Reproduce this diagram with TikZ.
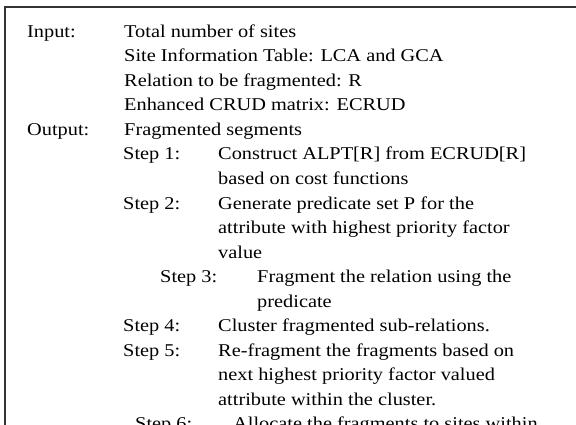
\documentclass[tikz,border=0pt]{standalone}
\usepackage{fontspec}
\setmainfont{Liberation Serif}[FakeStretch=1.13]
\begin{document}
\begin{tikzpicture}[x=1pt,y=-1pt,
  txt/.style={anchor=base west, inner sep=0pt, font=\fontsize{18}{22}\selectfont},
  frame/.style={line width=2pt, draw=black!80}]
\useasboundingbox (0,0) rectangle (576,425);
\clip (0,0) rectangle (576,425);
\draw[frame] (5,7.5) rectangle (620,470);
\node[txt] (inl) at (27,37.5) {Input:};
\node[txt] (in1) at (124,37.5) {Total number of sites};
\node[txt] (in2) at (124,62) {Site Information Table: LCA and GCA};
\node[txt] (in3) at (124,86.5) {Relation to be fragmented: R};
\node[txt] (in4) at (124,111) {Enhanced CRUD matrix: ECRUD};
\node[txt] (outl) at (27,135.5) {Output:};
\node[txt] (out1) at (124,135.5) {Fragmented segments};
\node[txt] (s1) at (123,160) {Step 1:};
\node[txt] (s1a) at (218,160) {Construct ALPT[R] from ECRUD[R]};
\node[txt] (s1b) at (218,184.5) {based on cost functions};
\node[txt] (s2) at (123,209) {Step 2:};
\node[txt] (s2a) at (218,209) {Generate predicate set P for the};
\node[txt] (s2b) at (218,233.5) {attribute with highest priority factor};
\node[txt] (s2c) at (218,258) {value};
\node[txt] (s3) at (160,282.5) {Step 3:};
\node[txt] (s3a) at (257,282.5) {Fragment the relation using the};
\node[txt] (s3b) at (257,307) {predicate};
\node[txt] (s4) at (123,331.5) {Step 4:};
\node[txt] (s4a) at (218,331.5) {Cluster fragmented sub-relations.};
\node[txt] (s5) at (123,356) {Step 5:};
\node[txt] (s5a) at (218,356) {Re-fragment the fragments based on};
\node[txt] (s5b) at (218,380.5) {next highest priority factor valued};
\node[txt] (s5c) at (218,405) {attribute within the cluster.};
\node[txt] (s6) at (135,429.5) {Step 6:};
\node[txt] (s6a) at (233,429.5) {Allocate the fragments to sites within};
\end{tikzpicture}
\end{document}
